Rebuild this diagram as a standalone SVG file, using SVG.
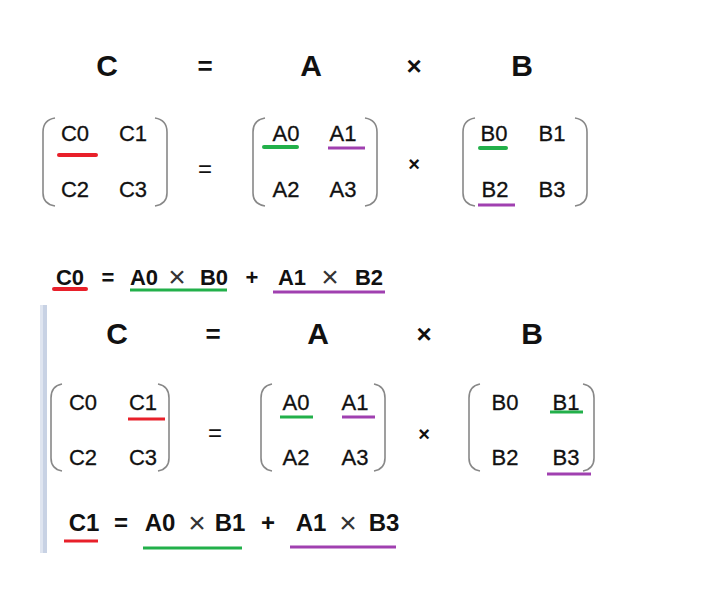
<svg xmlns="http://www.w3.org/2000/svg" width="704" height="592" viewBox="0 0 704 592">
<style>
text{font-family:"Liberation Sans",Arial,sans-serif;fill:#111}
.h{font-size:30px;font-weight:bold;text-anchor:middle}
.hq{font-size:26px;font-weight:bold;text-anchor:middle}
.hx{font-size:26px;font-weight:bold;text-anchor:middle}
.m{font-size:22px;text-anchor:middle;stroke:#111;stroke-width:0.3}
.mq{font-size:24px;text-anchor:middle}
.e{font-size:22px;font-weight:bold;text-anchor:middle}
.e2{font-size:24px;font-weight:bold;text-anchor:middle}
.x{font-size:30px;text-anchor:middle;fill:#333}
.mx{font-size:20px;font-weight:bold;text-anchor:middle}
.br{fill:none;stroke:#888;stroke-width:1.6}
.r{stroke:#e8202a;stroke-width:4;stroke-linecap:round}
.g{stroke:#22b04a;stroke-width:4;stroke-linecap:round}
.p{stroke:#a040b0;stroke-width:3}
.r2{stroke:#e8202a;stroke-width:3}
.g2{stroke:#22b04a;stroke-width:3}
</style>
<rect width="704" height="592" fill="#fff"/>
<rect x="40" y="305" width="3" height="248" fill="#dfe5f0"/>
<rect x="43" y="305" width="4" height="248" fill="#c8d2e4"/>
<g id="top">
<text class="h" x="107" y="76">C</text><text class="hq" x="205" y="75">=</text><text class="h" x="311" y="76">A</text><text class="hx" x="414" y="75">×</text><text class="h" x="522" y="76">B</text>
<g id="mC1"><path class="br" d="M55,118 Q43,120 43,132 L43,193 Q43,204 55,206 M155,118 Q167,120 167,132 L167,193 Q167,204 155,206"/>
<text class="m" x="75" y="141">C0</text><text class="m" x="133" y="141">C1</text><text class="m" x="75" y="197">C2</text><text class="m" x="133" y="197">C3</text>
<line class="r" x1="59" y1="155" x2="96" y2="155"/></g>
<text class="mq" x="205" y="177">=</text>
<g id="mA1"><path class="br" d="M265,118 Q253,120 253,132 L253,193 Q253,204 265,206 M365,118 Q377,120 377,132 L377,193 Q377,204 365,206"/>
<text class="m" x="286" y="141">A0</text><text class="m" x="343" y="141">A1</text><text class="m" x="286" y="197">A2</text><text class="m" x="343" y="197">A3</text>
<line class="g" x1="264" y1="147" x2="297" y2="147"/><line class="p" x1="328" y1="148" x2="365" y2="148"/></g>
<text class="mx" x="414" y="171">×</text>
<g id="mB1"><path class="br" d="M475,118 Q463,120 463,132 L463,193 Q463,204 475,206 M575,118 Q587,120 587,132 L587,193 Q587,204 575,206"/>
<text class="m" x="494" y="141">B0</text><text class="m" x="552" y="141">B1</text><text class="m" x="495" y="197">B2</text><text class="m" x="552" y="197">B3</text>
<line class="g" x1="480" y1="148" x2="506" y2="148"/><line class="p" x1="478" y1="205" x2="515" y2="205"/></g>
<g id="eq1"><text class="e" x="70" y="285">C0</text><text class="e" x="108" y="285">=</text><text class="e" x="144" y="285">A0</text><text class="x" x="177" y="287">×</text><text class="e" x="214" y="285">B0</text><text class="e" x="252" y="285">+</text><text class="e" x="292" y="285">A1</text><text class="x" x="330" y="287">×</text><text class="e" x="369" y="285">B2</text>
<line class="r" x1="54" y1="289" x2="86" y2="289"/><line class="g2" x1="130" y1="290" x2="227" y2="290"/><line class="p" x1="273" y1="292" x2="385" y2="292"/></g>
</g>
<g id="bottom">
<text class="h" x="117" y="344">C</text><text class="hq" x="213" y="343">=</text><text class="h" x="318" y="344">A</text><text class="hx" x="424" y="343">×</text><text class="h" x="532" y="344">B</text>
<g id="mC2"><path class="br" d="M62,384 Q51,386 51,398 L51,458 Q51,469 62,471 M158,384 Q169,386 169,398 L169,458 Q169,469 158,471"/>
<text class="m" x="83" y="410">C0</text><text class="m" x="143" y="410">C1</text><text class="m" x="83" y="465">C2</text><text class="m" x="143" y="465">C3</text>
<line class="r2" x1="128" y1="419" x2="165" y2="419"/></g>
<text class="mq" x="215" y="441">=</text>
<g id="mA2"><path class="br" d="M272,384 Q261,386 261,398 L261,458 Q261,469 272,471 M374,384 Q385,386 385,398 L385,458 Q385,469 374,471"/>
<text class="m" x="296" y="410">A0</text><text class="m" x="355" y="410">A1</text><text class="m" x="296" y="465">A2</text><text class="m" x="355" y="465">A3</text>
<line class="g2" x1="280" y1="417" x2="313" y2="417"/><line class="p" x1="342" y1="417" x2="375" y2="417"/></g>
<text class="mx" x="424" y="441">×</text>
<g id="mB2"><path class="br" d="M480,384 Q469,386 469,398 L469,458 Q469,469 480,471 M583,384 Q594,386 594,398 L594,458 Q594,469 583,471"/>
<text class="m" x="505" y="410">B0</text><text class="m" x="566" y="410">B1</text><text class="m" x="505" y="465">B2</text><text class="m" x="566" y="465">B3</text>
<line class="g2" x1="550" y1="412" x2="583" y2="412"/><line class="p" x1="547" y1="474" x2="591" y2="474"/></g>
<g id="eq2"><text class="e2" x="84" y="531">C1</text><text class="e2" x="121" y="531">=</text><text class="e2" x="160" y="531">A0</text><text class="x" x="197" y="533">×</text><text class="e2" x="230" y="531">B1</text><text class="e2" x="268" y="531">+</text><text class="e2" x="311" y="531">A1</text><text class="x" x="348" y="533">×</text><text class="e2" x="384" y="531">B3</text>
<line class="r2" x1="64" y1="541" x2="98" y2="541"/><line class="g2" x1="143" y1="548" x2="242" y2="548"/><line class="p" x1="290" y1="547" x2="396" y2="547"/></g>
</g>
</svg>
